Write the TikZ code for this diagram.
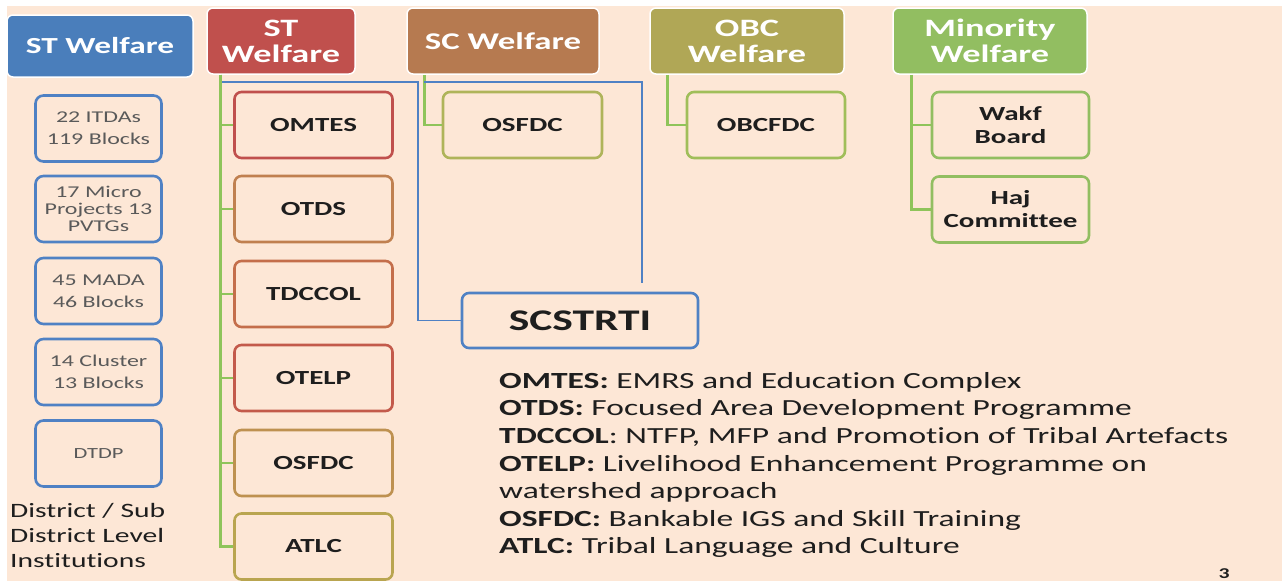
\documentclass[tikz,border=0pt]{standalone}
\usepackage{fontspec}
\setmainfont{Carlito}[FakeStretch=1.45, Ligatures=NoCommon]
\usetikzlibrary{calc}

\definecolor{peach}{RGB}{253,231,214}
\definecolor{ink}{RGB}{30,30,30}
\definecolor{greyink}{RGB}{90,90,90}
\definecolor{hblue}{RGB}{74,126,187}
\definecolor{hred}{RGB}{192,80,77}
\definecolor{hbrown}{RGB}{182,122,80}
\definecolor{holive}{RGB}{176,167,86}
\definecolor{hgreen}{RGB}{146,190,97}
\definecolor{lblue}{RGB}{79,129,196}
\definecolor{cgreen}{RGB}{143,196,90}
\definecolor{bomtes}{RGB}{192,80,77}
\definecolor{botds}{RGB}{192,128,80}
\definecolor{btdccol}{RGB}{196,110,75}
\definecolor{botelp}{RGB}{195,90,75}
\definecolor{bosfdc}{RGB}{190,145,80}
\definecolor{batlc}{RGB}{185,165,80}
\definecolor{bscosfdc}{RGB}{175,180,90}
\definecolor{bobc}{RGB}{160,190,90}

\begin{document}
\begin{tikzpicture}[x=1pt,y=-1pt,
  head/.style={rounded corners=6pt, draw=white, line width=1.5pt, text=white,
    font=\bfseries, align=center, inner sep=0pt, minimum height=66pt},
  unitbox/.style={rounded corners=7pt, line width=2.6pt, fill=peach, align=center,
    text=ink, font=\bfseries\fontsize{20}{23}\selectfont,
    minimum width=158pt, minimum height=66pt, inner sep=0pt},
  distbox/.style={rounded corners=8pt, line width=2.6pt, draw=lblue, fill=peach,
    text=greyink, align=center, minimum width=126pt, minimum height=66pt, inner sep=0pt},
  gline/.style={draw=cgreen, line width=2.8pt},
  bline/.style={draw=lblue, line width=1.4pt}]

% canvas
\useasboundingbox (0,0) rectangle (1282,581);
\fill[white] (0,0) rectangle (1282,581);
\fill[peach] (7,6) rectangle (1282,581);

% department headers
\node[head, fill=hblue, minimum width=186pt, minimum height=62pt,
      font=\bfseries\fontsize{23}{26}\selectfont] (stA) at (100,46) {ST Welfare};
\node[head, fill=hred, minimum width=148pt,
      font=\bfseries\fontsize{25}{26}\selectfont] (stB) at (281,41) {ST\\Welfare};
\node[head, fill=hbrown, minimum width=192pt,
      font=\bfseries\fontsize{24}{26}\selectfont] (sc) at (503,41) {SC Welfare};
\node[head, fill=holive, minimum width=194pt,
      font=\bfseries\fontsize{25}{26}\selectfont] (obc) at (747,41) {OBC\\Welfare};
\node[head, fill=hgreen, minimum width=194pt,
      font=\bfseries\fontsize{25}{26}\selectfont] (mino) at (990,41) {Minority\\Welfare};

% district level institutions
\node[distbox, font=\fontsize{16.5}{22}\selectfont] (itda) at (98.5,128.5) {22 ITDAs\\119 Blocks};
\node[distbox, font=\fontsize{16.5}{17}\selectfont] (micro) at (98.5,209) {17 Micro\\Projects 13\\PVTGs};
\node[distbox, font=\fontsize{16.5}{22}\selectfont] (mada) at (98.5,291) {45 MADA\\46 Blocks};
\node[distbox, font=\fontsize{16.5}{22}\selectfont] (clus) at (98.5,372) {14 Cluster\\13 Blocks};
\node[distbox, font=\fontsize{15.5}{22}\selectfont] (dtdp) at (98.5,453.5) {DTDP};
\node[anchor=north west, align=left, inner sep=0pt, text=ink,
      font=\fontsize{20.4}{25}\selectfont] (distlbl) at (10,503) {District / Sub\\District Level\\Institutions};

% ST welfare units
\node[unitbox, draw=bomtes] (omtes) at (313.5,125) {OMTES};
\node[unitbox, draw=botds] (otds) at (313.5,209) {OTDS};
\node[unitbox, draw=btdccol] (tdccol) at (313.5,294) {TDCCOL};
\node[unitbox, draw=botelp] (otelp) at (313.5,378) {OTELP};
\node[unitbox, draw=bosfdc] (osfdc) at (313.5,463) {OSFDC};
\node[unitbox, draw=batlc] (atlc) at (313.5,546.5) {ATLC};

% other departments' units
\node[unitbox, draw=bscosfdc, minimum width=159pt] (scosfdc) at (522.5,125) {OSFDC};
\node[unitbox, draw=bobc] (obcfdc) at (766,125) {OBCFDC};
\node[unitbox, draw=hgreen, minimum width=157pt] (wakf) at (1010.5,125) {Wakf\\Board};
\node[unitbox, draw=hgreen, minimum width=157pt] (haj) at (1010.5,209.5) {Haj\\Committee};

% research institute
\node[unitbox, draw=lblue, minimum width=236pt, minimum height=55pt,
      font=\bfseries\fontsize{30}{32}\selectfont] (scstrti) at (580,320.5) {SCSTRTI};

% tree connectors
\coordinate (stroot) at ([xshift=14pt]stB.south west);
\draw[gline] (stroot) |- (omtes.west);
\draw[gline] (stroot) |- (otds.west);
\draw[gline] (stroot) |- (tdccol.west);
\draw[gline] (stroot) |- (otelp.west);
\draw[gline] (stroot) |- (osfdc.west);
\draw[gline] (stroot) |- (atlc.west);

\coordinate (scroot) at ([xshift=18pt]sc.south west);
\draw[gline] (scroot) |- (scosfdc.west);
\coordinate (obcroot) at ([xshift=18pt]obc.south west);
\draw[gline] (obcroot) |- (obcfdc.west);
\coordinate (minroot) at ([xshift=19pt]mino.south west);
\draw[gline] (minroot) |- (wakf.west);
\draw[gline] (minroot) |- (haj.west);

% links to SCSTRTI
\coordinate (bA) at (222,82);
\coordinate (bAturn) at (418,82);
\draw[bline] (bA) -- (bAturn) |- (scstrti.west);
\coordinate (bB) at (424,82);
\coordinate (bBturn) at (642,82);
\coordinate (bBend) at (642,283);
\draw[bline] (bB) -- (bBturn) -- (bBend);

% abbreviations
\node[anchor=north west, align=left, inner sep=0pt, text=ink,
      font=\fontsize{23.1}{27.6}\selectfont] (legend) at (499,372)
 {\textbf{OMTES:} EMRS and Education Complex\\
  \textbf{OTDS:} Focused Area Development Programme\\
  \textbf{TDCCOL}: NTFP, MFP and Promotion of Tribal Artefacts\\
  \textbf{OTELP:} Livelihood Enhancement Programme on\\
  watershed approach\\
  \textbf{OSFDC:} Bankable IGS and Skill Training\\
  \textbf{ATLC:} Tribal Language and Culture};

\node[anchor=base, inner sep=0pt, text=ink, font=\bfseries\fontsize{15}{16}\selectfont] (pgno) at (1224,578) {3};
\end{tikzpicture}
\end{document}
